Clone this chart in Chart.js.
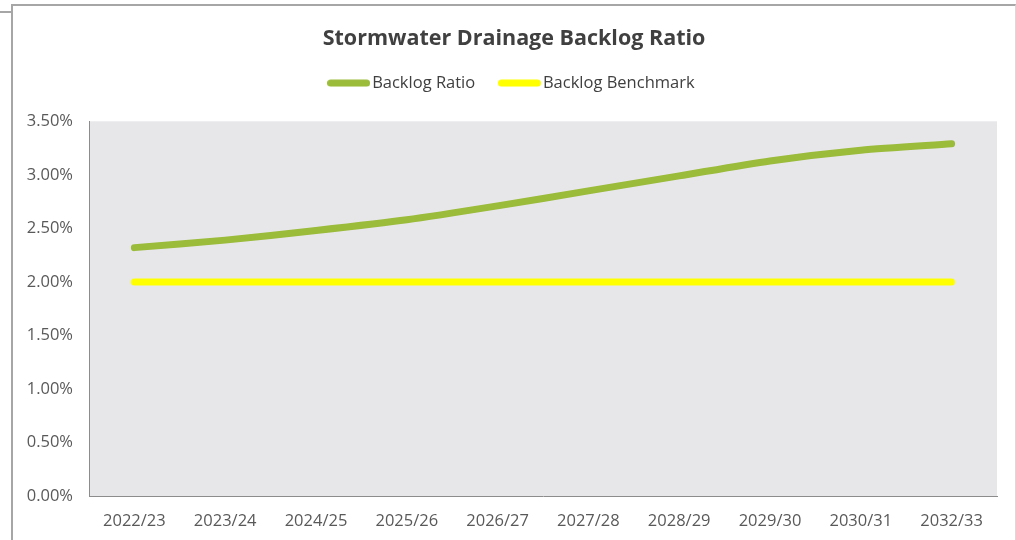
<!DOCTYPE html>
<html>
<head>
<meta charset="utf-8">
<script src="https://cdn.jsdelivr.net/npm/chart.js@4.4.1/dist/chart.umd.min.js"></script>
<style>
  html, body { margin: 0; padding: 0; background: #fff; }
  #wrap { position: absolute; left: 0; top: 0; width: 1016px; height: 540px; }
  #frame { position: absolute; left: 11px; top: 4px; width: 1002px; height: 540px;
           border-left: 2px solid #a6a6a6; border-top: 2px solid #a6a6a6; border-right: 1px solid #d9d9d9; }
  #tick { position: absolute; left: 0; top: 11px; width: 11px; height: 0; border-top: 2px solid #a6a6a6; }
  canvas { position: absolute; left: 0; top: 0; }
</style>
</head>
<body>
<div id="wrap">
  <div id="frame"></div>
  <div id="tick"></div>
  <canvas id="c" width="1016" height="540"></canvas>
</div>
<script>
const categories = ["2022/23","2023/24","2024/25","2025/26","2026/27","2027/28","2028/29","2029/30","2030/31","2032/33"];
const backlogRatio = [2.32, 2.39, 2.48, 2.58, 2.71, 2.85, 2.99, 3.13, 3.23, 3.29];
const backlogBenchmark = [2.00, 2.00, 2.00, 2.00, 2.00, 2.00, 2.00, 2.00, 2.00, 2.00];
const yTicks = [0, 0.5, 1.0, 1.5, 2.0, 2.5, 3.0, 3.5];

const plotBg = {
  id: 'plotBg',
  beforeDraw(chart) {
    const {ctx, chartArea: a} = chart;
    ctx.save();
    ctx.fillStyle = '#e7e7ea';
    ctx.fillRect(a.left, a.top, a.right - a.left, a.bottom - a.top);
    ctx.restore();
  }
};

function legendSwatch(color) {
  const cv = document.createElement('canvas');
  cv.width = 43; cv.height = 8;
  const c = cv.getContext('2d');
  c.fillStyle = color;
  c.beginPath();
  c.roundRect(0, 0.5, 43, 7, 3.5);
  c.fill();
  return cv;
}

const chart = new Chart(document.getElementById('c'), {
  type: 'line',
  data: {
    labels: categories,
    datasets: [
      { label: 'Backlog Ratio', data: backlogRatio, borderColor: '#9bbb3a', backgroundColor: '#9bbb3a',
        borderWidth: 7, pointRadius: 0, tension: 0.25, borderCapStyle: 'round', borderJoinStyle: 'round' },
      { label: 'Backlog Benchmark', data: backlogBenchmark, borderColor: '#ffff00', backgroundColor: '#ffff00',
        borderWidth: 7, pointRadius: 0, tension: 0, borderCapStyle: 'round', borderJoinStyle: 'round' }
    ]
  },
  options: {
    responsive: false,
    animation: false,
    devicePixelRatio: 1,
    layout: { padding: { left: 12, right: 0, top: 0, bottom: 0 } },
    plugins: {
      tooltip: { enabled: false },
      title: {
        display: true, text: 'Stormwater Drainage Backlog Ratio', color: '#404040',
        font: { family: 'Open Sans', size: 21.5, weight: 'bold' },
        padding: { top: 26, bottom: -6 }
      },
      legend: {
        display: true,
        labels: {
          color: '#404040', font: { family: 'Open Sans', size: 16.5 },
          usePointStyle: true, pointStyleWidth: 30.5, boxHeight: 7, padding: 29,
          generateLabels(ch) {
            return ch.data.datasets.map((d, i) => ({
              text: d.label, fillStyle: d.borderColor, strokeStyle: d.borderColor,
              lineWidth: 0, fontColor: '#404040', datasetIndex: i, hidden: false,
              pointStyle: legendSwatch(d.borderColor)
            }));
          }
        }
      }
    },
    scales: {
      x: {
        offset: true,
        grid: { display: false, drawTicks: false, offset: true },
        border: { display: true, color: '#8c8c8c', width: 1 },
        ticks: { color: '#595959', font: { family: 'Open Sans', size: 16.5 }, padding: 15, maxRotation: 0 },
        afterFit(s) { s.height = 44; }
      },
      y: {
        min: 0, max: 3.5,
        grid: { display: false, drawTicks: false },
        border: { display: true, color: '#8c8c8c', width: 1 },
        afterBuildTicks(s) { s.ticks = yTicks.map(v => ({ value: v })); },
        ticks: { color: '#595959', font: { family: 'Open Sans', size: 16.5 }, padding: 16,
                 callback: v => v.toFixed(2) + '%' },
        afterFit(s) { s.width = 77; }
      },
      yRight: {
        position: 'right', display: true,
        grid: { display: false, drawTicks: false },
        border: { display: false },
        ticks: { display: false },
        afterFit(s) { s.width = 19; }
      }
    }
  },
  plugins: [plotBg]
});

const lg = chart.legend;
const origFit = lg.fit.bind(lg);
lg.fit = function () { origFit(); this.height += 20; };
chart.update();
</script>
</body>
</html>
